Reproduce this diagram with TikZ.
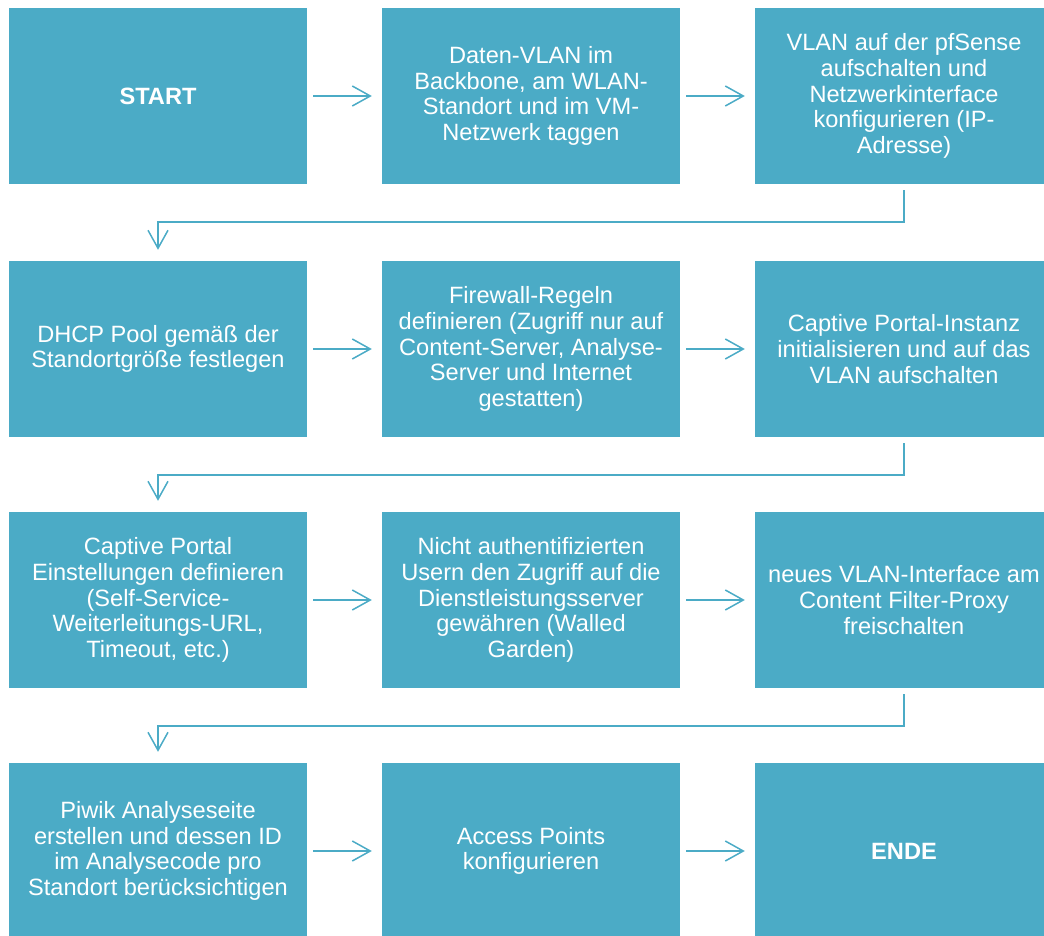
\documentclass[tikz,border=0pt]{standalone}
\usepackage{fontspec}
\setmainfont{Liberation Sans}
\usetikzlibrary{arrows.meta}
\definecolor{teal}{RGB}{75,171,198}
\tikzset{
  x=1pt, y=1pt,
  stepbox/.style={fill=teal, draw=none, minimum width=298pt, minimum height=176pt,
    inner sep=0pt, text=white, align=center,
    font=\fontsize{23.6}{25.7}\selectfont},
  flow/.style={draw=teal, line width=1.5pt,
    -{Straight Barb[length=18pt,width=20pt,line width=1.5pt]}},
}
\begin{document}
\begin{tikzpicture}
\useasboundingbox (0,0) rectangle (1044,-936);
\clip (0,0) rectangle (1044,-936);
% row 1
\node[stepbox] (s1) at (158,-96) {\textbf{START}};
\node[stepbox] (s2) at (531,-96) {Daten-VLAN im\\Backbone, am WLAN-\\Standort und im VM-\\Netzwerk taggen};
\node[stepbox] (s3) at (904,-96) {VLAN auf der pfSense\\aufschalten und\\Netzwerkinterface\\konfigurieren (IP-\\Adresse)};
% row 2
\node[stepbox] (s4) at (158,-349) {DHCP Pool gemäß der\\Standortgröße festlegen};
\node[stepbox] (s5) at (531,-349) {Firewall-Regeln\\definieren (Zugriff nur auf\\Content-Server, Analyse-\\Server und Internet\\gestatten)};
\node[stepbox] (s6) at (904,-349) {Captive Portal-Instanz\\initialisieren und auf das\\VLAN aufschalten};
% row 3
\node[stepbox] (s7) at (158,-600) {Captive Portal\\Einstellungen definieren\\(Self-Service-\\Weiterleitungs-URL,\\Timeout, etc.)};
\node[stepbox] (s8) at (531,-600) {Nicht authentifizierten\\Usern den Zugriff auf die\\Dienstleistungsserver\\gewähren (Walled\\Garden)};
\node[stepbox] (s9) at (904,-600) {neues VLAN-Interface am\\Content Filter-Proxy\\freischalten};
% row 4
\node[stepbox] (s10) at (158,-851) {Piwik Analyseseite\\erstellen und dessen ID\\im Analysecode pro\\Standort berücksichtigen};
\node[stepbox] (s11) at (531,-851) {Access Points\\konfigurieren};
\node[stepbox] (s12) at (904,-851) {\textbf{ENDE}};
% arrows within a row
\foreach \a/\b in {s1/s2,s2/s3,s4/s5,s5/s6,s7/s8,s8/s9,s10/s11,s11/s12}
  \draw[flow] ([xshift=6pt]\a.east) -- ([xshift=-10pt]\b.west);
% wrap-around arrows to the next row
\foreach \a/\b in {s3/s4,s6/s7,s9/s10}
  \draw[flow] ([yshift=-6pt]\a.south) -- ++(0,-32) -| ([yshift=11pt]\b.north);
\end{tikzpicture}
\end{document}
